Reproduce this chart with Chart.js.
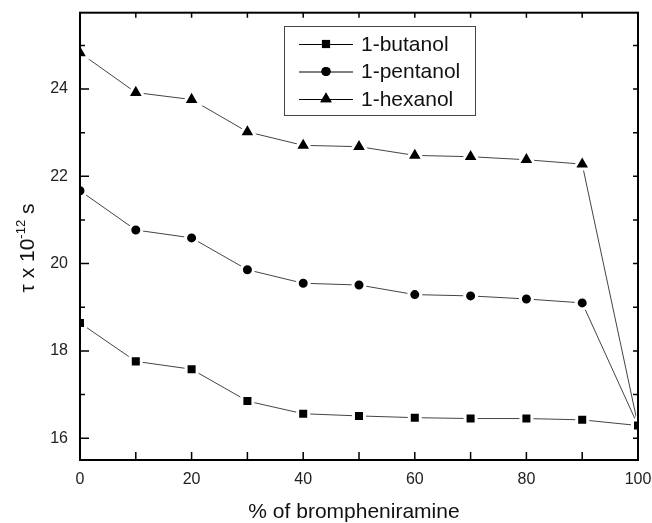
<!DOCTYPE html>
<html>
<head>
<meta charset="utf-8">
<script src="https://cdn.jsdelivr.net/npm/chart.js@4.4.1/dist/chart.umd.min.js"></script>
<style>
  html, body { margin: 0; padding: 0; background: #fff; }
  .container { width: 652px; height: 523px; }
</style>
</head>
<body>
<div class="container"><canvas id="myChart" width="652" height="523"></canvas></div>
<script>
const percent = [0, 10, 20, 30, 40, 50, 60, 70, 80, 90, 100];
const butanol = [18.64, 17.76, 17.58, 16.85, 16.56, 16.51, 16.47, 16.45, 16.45, 16.42, 16.29];
const pentanol = [21.67, 20.77, 20.59, 19.86, 19.55, 19.51, 19.29, 19.26, 19.19, 19.10, 16.29];
const hexanol = [24.83, 23.92, 23.76, 23.02, 22.71, 22.68, 22.48, 22.45, 22.38, 22.28, 16.29];
const seriesNames = ["1-butanol", "1-pentanol", "1-hexanol"];
const xTicks = [0, 20, 40, 60, 80, 100];
const xMinor = [10, 30, 50, 70, 90];
const yTicks = [16, 18, 20, 22, 24];
const yMinor = [17, 19, 21, 23, 25];

const font = "'Liberation Sans', Arial, sans-serif";
const markers = ["rect", "circle", "triangle"];
const radii = [7.8, 6, 9.7];
const legendRadii = [5.8, 4.6, 6.6];

const datasets = [butanol, pentanol, hexanol].map((vals, i) => ({
  label: seriesNames[i],
  data: percent.map((x, j) => ({ x: x, y: vals[j] })),
  borderColor: "#444",
  borderWidth: 1,
  pointStyle: markers[i],
  pointRadius: radii[i],
  pointHoverRadius: radii[i],
  pointBackgroundColor: "#000",
  pointBorderColor: "#fff",
  pointBorderWidth: 3,
  tension: 0,
}));

// frame, inward ticks, legend box and axis titles
const decorations = {
  id: "decorations",
  afterDraw(chart) {
    const { ctx, chartArea: a, scales } = chart;
    const x = scales.x, y = scales.y;
    ctx.save();

    ctx.strokeStyle = "#000";
    ctx.lineWidth = 1.5;
    ctx.beginPath();
    yTicks.concat(yMinor).forEach((v) => {
      const py = y.getPixelForValue(v);
      const len = yTicks.includes(v) ? 9 : 5;
      ctx.moveTo(a.left, py); ctx.lineTo(a.left + len, py);
      ctx.moveTo(a.right, py); ctx.lineTo(a.right - 5, py);
    });
    xTicks.concat(xMinor).forEach((v) => {
      const px = x.getPixelForValue(v);
      ctx.moveTo(px, a.bottom); ctx.lineTo(px, a.bottom - 8);
      ctx.moveTo(px, a.top); ctx.lineTo(px, a.top + 5);
    });
    ctx.stroke();
    ctx.lineWidth = 2;
    ctx.strokeRect(a.left, a.top, a.right - a.left, a.bottom - a.top);

    // legend
    ctx.fillStyle = "#fff";
    ctx.fillRect(284, 26, 191, 89);
    ctx.strokeStyle = "#444";
    ctx.lineWidth = 1;
    ctx.strokeRect(284.5, 26.5, 191, 89);
    const rows = [44, 71.5, 99];
    rows.forEach((ry, i) => {
      ctx.strokeStyle = "#000";
      ctx.beginPath();
      ctx.moveTo(299, ry + 0.5); ctx.lineTo(353, ry + 0.5);
      ctx.stroke();
      Chart.helpers.drawPoint(ctx, {
        pointStyle: markers[i], radius: legendRadii[i], borderWidth: 0, rotation: 0,
      }, 326, ry);
      ctx.fillStyle = "#000";
      ctx.fill();
      ctx.fillStyle = "#111";
      ctx.font = "21px " + font;
      ctx.textBaseline = "middle";
      ctx.textAlign = "left";
      ctx.fillText(seriesNames[i], 361, ry + 1);
    });

    // x title
    ctx.fillStyle = "#111";
    ctx.font = "21px " + font;
    ctx.textAlign = "center";
    ctx.textBaseline = "alphabetic";
    ctx.fillText("% of brompheniramine", 354, 518);

    // y title with superscript
    const parts = [["τ x 10", "21px " + font, 0], ["-12", "13px " + font, -9], [" s", "21px " + font, 0]];
    let total = 0;
    parts.forEach((p) => { ctx.font = p[1]; total += ctx.measureText(p[0]).width; });
    ctx.translate(34, 248);
    ctx.rotate(-Math.PI / 2);
    ctx.textAlign = "left";
    let cx = -total / 2;
    parts.forEach((p) => {
      ctx.font = p[1];
      ctx.fillText(p[0], cx, p[2]);
      cx += ctx.measureText(p[0]).width;
    });
    ctx.restore();
  },
};

const ctx = document.getElementById("myChart");

new Chart(ctx, {
  type: "line",
  data: { datasets: datasets },
  options: {
    responsive: false,
    animation: false,
    events: [],
    layout: { padding: { left: 0, right: 14, top: 10, bottom: 0 } },
    plugins: { legend: { display: false }, tooltip: { enabled: false } },
    scales: {
      x: {
        type: "linear",
        min: 0,
        max: 100,
        grid: { display: false, drawTicks: false },
        border: { display: false },
        afterBuildTicks: (scale) => { scale.ticks = xTicks.map((v) => ({ value: v })); },
        afterFit: (scale) => { scale.height = 63; scale.paddingLeft = 0; scale.paddingRight = 0; },
        ticks: { autoSkip: false, maxRotation: 0, padding: 10, color: "#222", font: { family: font, size: 16 } },
      },
      y: {
        type: "linear",
        min: 15.5,
        max: 25.75,
        grid: { display: false, drawTicks: false },
        border: { display: false },
        afterBuildTicks: (scale) => { scale.ticks = yTicks.map((v) => ({ value: v })); },
        afterFit: (scale) => { scale.width = 80; scale.paddingTop = 0; scale.paddingBottom = 0; },
        ticks: { autoSkip: false, padding: 12, color: "#222", font: { family: font, size: 16 } },
      },
    },
  },
  plugins: [decorations],
});
</script>
</body>
</html>
